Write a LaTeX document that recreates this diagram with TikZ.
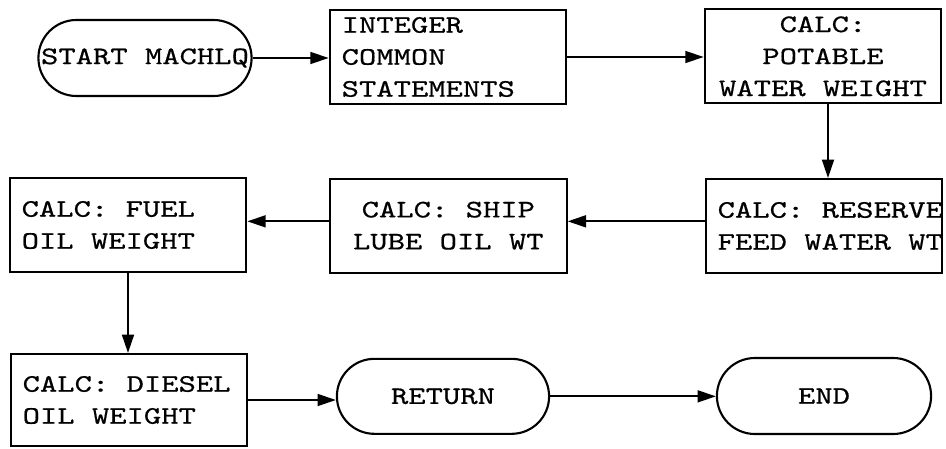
\documentclass[tikz,border=0pt]{standalone}
\usepackage{fontspec}
\setmonofont{lmmono10-regular.otf}[FakeStretch=1.31, FakeBold=0.6]
\usetikzlibrary{shapes.misc, arrows.meta, positioning}
\newcommand{\tsp}{\hphantom{X}}

\begin{document}
\begin{tikzpicture}[
        proc/.style={rectangle, draw=black, line width=1.8pt, minimum width=7.1cm, minimum height=2.82cm, text width=6.38cm, inner xsep=0.36cm, inner ysep=0pt, align=center, font=\ttfamily\fontsize{21.5}{27.3}\selectfont},
        procl/.style={proc, align=left},
        term/.style={rounded rectangle, draw=black, line width=1.8pt, minimum width=6.63cm, minimum height=2.28cm, align=center, font=\ttfamily\fontsize{21.5}{27.3}\selectfont},
        flow/.style={line width=1.5pt, -{Triangle[length=0.55cm, width=0.36cm]}}
    ]
        \useasboundingbox (0,0) rectangle (28.38,13.44);

        % ----------------------------------------------------
        % TOP ROW
        % ----------------------------------------------------
        \node[term] (start) at (4.35, 11.70) {START\tsp MACHLQ};
        \node[procl] (integer) at (13.44, 11.73) {INTEGER\\COMMON\\STATEMENTS};
        \node[proc] (potable) at (24.69, 11.75) {CALC:\\POTABLE\\WATER\tsp WEIGHT};

        % ----------------------------------------------------
        % MIDDLE ROW
        % ----------------------------------------------------
        \node[procl] (reserve) at (24.72, 6.66) {CALC:\tsp RESERVE\\FEED\tsp WATER\tsp WT};
        \node[proc] (ship) at (13.45, 6.67) {CALC:\tsp SHIP\\LUBE\tsp OIL\tsp WT};
        \node[procl] (fuel) at (3.84, 6.69) {CALC:\tsp FUEL\\OIL\tsp WEIGHT};

        % ----------------------------------------------------
        % BOTTOM ROW
        % ----------------------------------------------------
        \node[procl, minimum height=2.76cm] (diesel) at (3.87, 1.44) {CALC:\tsp DIESEL\\OIL\tsp WEIGHT};
        \node[term, minimum width=6.6cm, minimum height=2.25cm] (ret) at (13.29, 1.55) {RETURN};
        \node[term, minimum width=6.66cm] (finish) at (24.72, 1.56) {END};

        % ----------------------------------------------------
        % FLOW
        % ----------------------------------------------------
        \draw[flow] (start.east) -- (start.east -| integer.west);
        \draw[flow] (integer.east) -- (integer.east -| potable.west);
        \draw[flow] ([xshift=0.15cm]potable.south) -- ([xshift=0.15cm]potable.south |- reserve.north);
        \draw[flow] ([yshift=0.14cm]reserve.west) -- ([yshift=0.14cm]reserve.west -| ship.east);
        \draw[flow] ([yshift=0.13cm]ship.west) -- ([yshift=0.13cm]ship.west -| fuel.east);
        \draw[flow] (fuel.south) -- (fuel.south |- diesel.north);
        \draw[flow] (diesel.east) -- (diesel.east -| ret.west);
        \draw[flow] (ret.east) -- (ret.east -| finish.west);

    \end{tikzpicture}
\end{document}
